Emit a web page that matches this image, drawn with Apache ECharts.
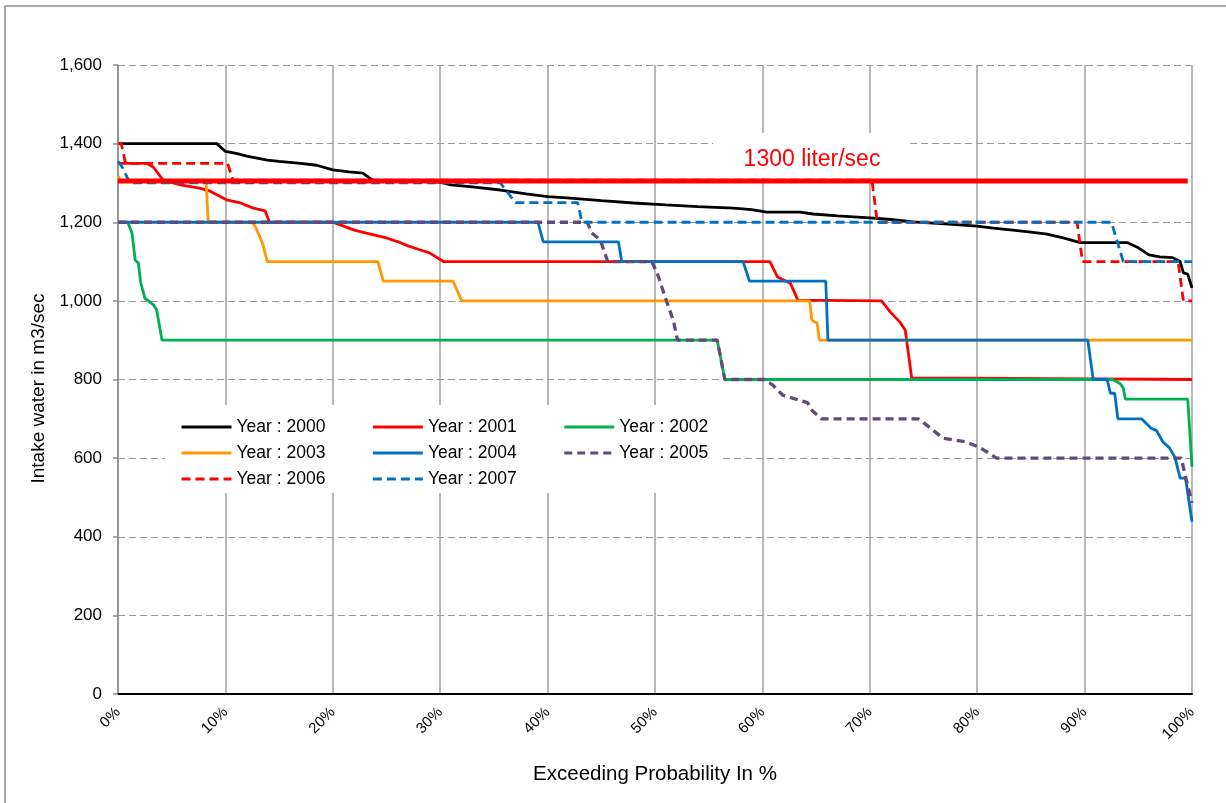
<!DOCTYPE html>
<html>
<head>
<meta charset="utf-8">
<script src="https://cdn.jsdelivr.net/npm/echarts@6/dist/echarts.min.js"></script>
<style>
html,body{margin:0;padding:0;background:#fff;}
#chart{width:1226px;height:803px;}
</style>
</head>
<body>
<div id="chart"></div>
<script>
// Exceeding probability (%) vs intake water (m3/sec)
const y2000 = [[0,1400],[9.2,1400],[10,1380],[11,1375],[12,1368],[13.9,1358],[15,1355],[17,1350],[18.5,1345],[20,1333],[21.5,1328],[22.8,1325],[23.7,1307],[30,1302],[31,1295],[33,1290],[35.6,1282],[38,1272],[40,1265],[41.8,1262],[45,1255],[48,1249],[51,1244],[54,1240],[57.3,1236],[59,1232],[60.4,1226],[63.5,1226],[64.7,1221],[67,1216],[70,1211],[72,1207],[74,1201],[77,1196],[80,1190],[81.5,1185],[83.3,1180],[85,1175],[86.5,1170],[88,1160],[89.6,1148],[94,1148],[95,1135],[96,1117],[97,1112],[98.2,1110],[98.9,1100],[99.2,1071],[99.6,1068],[100,1033]];
const y2001 = [[0,1350],[2.7,1350],[3.3,1340],[4.2,1307],[5.8,1295],[7.6,1287],[8.5,1280],[9.2,1270],[10.1,1257],[11.4,1249],[12.6,1236],[13.7,1229],[14.1,1200],[20,1200],[21,1190],[22,1180],[23.5,1170],[25,1160],[26.3,1148],[27,1140],[28.1,1130],[29,1122],[30.3,1100],[60.7,1100],[61.4,1061],[62.6,1045],[63.3,1002],[71.1,1000],[71.9,972],[72.8,946],[73.3,926],[73.9,804],[100,800]];
const y2002 = [[0,1200],[0.9,1200],[1.3,1173],[1.6,1104],[1.9,1096],[2.1,1048],[2.5,1007],[3.3,990],[3.6,977],[4.1,900],[55.8,900],[56.5,800],[92.6,800],[93.3,790],[93.6,778],[93.8,750],[99.6,750],[100,578]];
const y2003 = [[0,1318],[0.2,1305],[8.2,1305],[8.4,1200],[12.5,1200],[12.8,1188],[13.2,1163],[13.5,1142],[13.9,1100],[24.2,1100],[24.7,1050],[31.2,1050],[32,1000],[64.4,1000],[64.6,951],[65.1,943],[65.3,900],[100,900]];
const y2004 = [[0,1200],[39.1,1200],[39.6,1150],[46.6,1150],[46.9,1100],[58.2,1100],[58.8,1050],[65.9,1050],[66.1,900],[90.3,900],[90.8,800],[92.1,800],[92.4,765],[92.8,765],[93.1,700],[95.3,700],[96.2,676],[96.7,670],[97.3,641],[97.9,626],[98.4,603],[98.7,570],[98.9,549],[99.4,549],[100,438]];
const y2005 = [[0,1200],[43.7,1200],[44.1,1173],[44.9,1155],[45.6,1100],[49.7,1100],[50.2,1071],[51.1,997],[51.7,951],[52.1,900],[55.8,900],[56.5,800],[60.2,800],[61,785],[61.9,760],[64.2,741],[64.6,722],[65.5,700],[74.5,700],[75.3,684],[76.8,651],[79,641],[80.3,626],[81.8,600],[99.0,600],[99.4,552],[100,486]];
const y2006 = [[0,1400],[0.3,1400],[0.7,1350],[10.2,1350],[10.7,1307],[70.2,1307],[70.7,1200],[89.3,1200],[89.8,1100],[98.7,1100],[99.2,1000],[100,1000]];
const y2007 = [[0,1355],[0.4,1340],[1.1,1300],[35.6,1300],[37,1250],[42.8,1250],[43.2,1200],[92.5,1200],[93.6,1100],[100,1100]];
const limitLine = [[0,1305],[99.6,1305]];
const limitLabel = '1300 liter/sec';
const seriesNames = ['Year : 2000','Year : 2001','Year : 2002','Year : 2003','Year : 2004','Year : 2005','Year : 2006','Year : 2007'];
const seriesData = [y2000,y2001,y2002,y2003,y2004,y2005,y2006,y2007];
const seriesColors = ['#000000','#FF0000','#00B050','#FF9900','#0070C0','#604A7B','#FF0000','#0070C0'];
const seriesDash = ['solid','solid','solid','solid','solid',[8,5],[9,5],[9,5]];
const seriesWidth = [2.8,2.8,2.8,2.8,2.8,3.3,2.8,2.8];
const yTicks = [0,200,400,600,800,1000,1200,1400,1600];

const FONT = '"Liberation Sans", Arial, sans-serif';
const chart = echarts.init(document.getElementById('chart'), null, {renderer:'canvas'});

const series = seriesNames.map((n,i)=>({
  name:n, type:'line', data:seriesData[i], showSymbol:false, symbol:'none',
  animation:false,
  lineStyle:{color:seriesColors[i], width:seriesWidth[i], type:seriesDash[i]},
  itemStyle:{color:seriesColors[i]},
  z:2+i*0.01
}));
series.push({
  name:'limit', type:'line', data:limitLine, showSymbol:false, symbol:'none', animation:false,
  lineStyle:{color:'#FF0000', width:5}, itemStyle:{color:'#FF0000'}, z:3
});

function legendRow(names, top){
  return {
    data:names, left:180, top:top, orient:'horizontal', padding:0,
    itemWidth:50, itemHeight:14, itemGap:46, z:10,
    itemStyle:{opacity:0},
    lineStyle:{width:3},
    textStyle:{fontFamily:FONT, fontSize:17.5, color:'#000'},
    selectedMode:false
  };
}

chart.setOption({
  animation:false,
  backgroundColor:'#fff',
  grid:{left:118, right:34, top:65, bottom:109, containLabel:false},
  legend:[
    legendRow(seriesNames.slice(0,3), 418),
    legendRow(seriesNames.slice(3,6), 444),
    legendRow(seriesNames.slice(6,8), 470)
  ],
  xAxis:{
    type:'value', min:0, max:100, interval:10,
    name:'Exceeding Probability In %', nameLocation:'middle', nameGap:70,
    nameTextStyle:{fontFamily:FONT, fontSize:20.5, color:'#000'},
    axisLine:{show:true, onZero:false, lineStyle:{color:'#000', width:2}},
    axisTick:{show:false},
    axisLabel:{formatter:'{value}%', rotate:45, margin:16, fontFamily:FONT, fontSize:15, color:'#000'},
    splitLine:{show:true, lineStyle:{color:'#A0A0A0', width:1.5, type:'solid'}}
  },
  yAxis:{
    type:'value', min:0, max:1600, interval:200,
    name:'Intake water in m3/sec', nameLocation:'middle', nameGap:68, nameRotate:90,
    nameTextStyle:{fontFamily:FONT, fontSize:19, color:'#000', padding:[0,18,0,0]},
    axisLine:{show:true, lineStyle:{color:'#8C8C8C', width:1.5}},
    axisTick:{show:true, length:5, lineStyle:{color:'#8C8C8C', width:1.5}},
    axisLabel:{fontFamily:FONT, fontSize:17, color:'#000', margin:16,
      formatter:v=>yTicks.includes(v)? v.toLocaleString('en-US') : ''},
    splitLine:{show:true, lineStyle:{color:'#9A9A9A', width:1.2, type:[7,4]}}
  },
  series:series,
  graphic:[
    {type:'rect', z:0, silent:true, shape:{x:5, y:6, width:1300, height:900}, style:{fill:'none', stroke:'#8C8C8C', lineWidth:1.5}},
    {type:'rect', z:5, silent:true, shape:{x:165, y:405, width:555, height:88}, style:{fill:'#fff'}},
    {type:'rect', z:5, silent:true, shape:{x:713, y:133, width:197, height:45}, style:{fill:'#fff'}},
    {type:'text', z:10, silent:true, x:812, y:160, style:{text:limitLabel, fill:'#FF0000', font:'23px "Liberation Sans", Arial, sans-serif', align:'center', verticalAlign:'middle'}}
  ]
});
</script>
</body>
</html>
